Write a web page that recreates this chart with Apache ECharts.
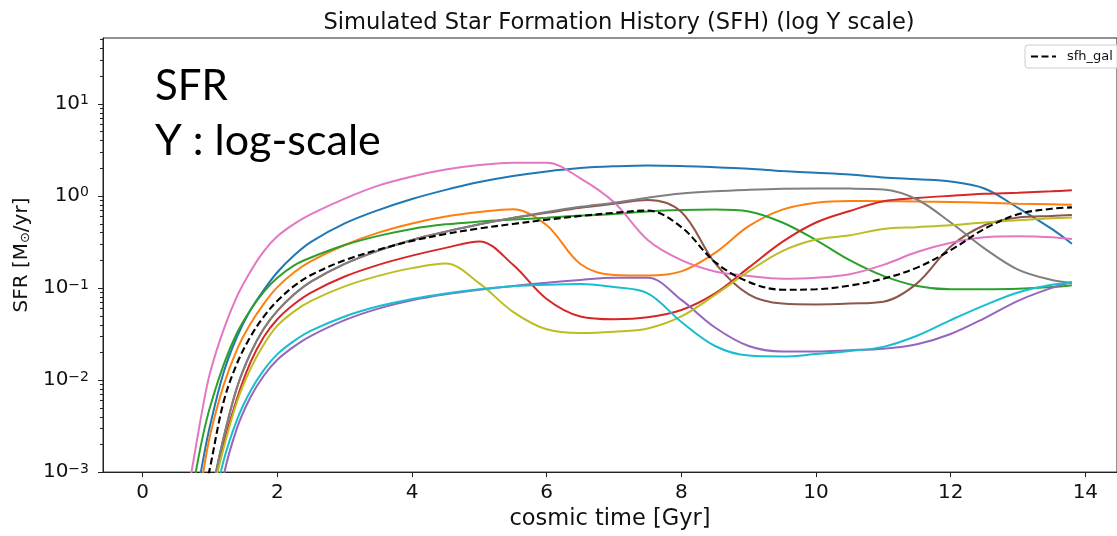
<!DOCTYPE html>
<html><head><meta charset="utf-8">
<script src="https://cdn.jsdelivr.net/npm/echarts@6/dist/echarts.min.js"></script>
<style>html,body{margin:0;padding:0;background:#fff}#c{width:1117px;height:536px}</style>
</head><body><div id="c"></div>
<script>
// cosmic time grid [Gyr]
const time = [0.6,0.7,0.8,0.9,1.0,1.2,1.4,1.6,1.8,2.0,2.25,2.5,3.0,3.5,4.0,4.5,5.0,5.5,6.0,6.5,7.0,7.5,8.0,8.5,9.0,9.5,10.0,10.5,11.0,11.5,12.0,12.5,13.0,13.5,13.8];
// SFR values [Msun/yr]
const sfh0 = [0.000079,0.0002,0.00054,0.0014,0.0032,0.012,0.0295,0.0575,0.0955,0.148,0.226,0.316,0.501,0.70,0.923,1.16,1.41,1.64,1.84,2.0,2.09,2.14,2.11,2.04,1.97,1.86,1.78,1.70,1.585,1.51,1.43,1.20,0.741,0.437,0.302];
const sfh1 = [0.00004,0.000112,0.000316,0.001,0.0025,0.0087,0.0214,0.0407,0.0676,0.102,0.148,0.195,0.292,0.398,0.501,0.596,0.668,0.716,0.479,0.182,0.138,0.136,0.151,0.24,0.468,0.708,0.841,0.877,0.875,0.867,0.859,0.841,0.822,0.809,0.80];
const sfh2 = [0.000126,0.0004,0.00112,0.0026,0.0051,0.0145,0.0324,0.0575,0.0912,0.129,0.176,0.214,0.292,0.367,0.437,0.49,0.525,0.552,0.578,0.61,0.634,0.676,0.70,0.708,0.676,0.513,0.331,0.20,0.135,0.105,0.0966,0.0966,0.0977,0.102,0.107];
const sfh3 = [0.00001,0.000025,0.00007,0.0002,0.00045,0.002,0.0063,0.0155,0.0295,0.0457,0.0668,0.0891,0.133,0.178,0.224,0.272,0.32,0.178,0.0759,0.049,0.0457,0.0479,0.0575,0.0871,0.166,0.316,0.513,0.684,0.871,0.944,1.0,1.05,1.08,1.12,1.15];
const sfh4 = [0.000001,0.0000032,0.00001,0.0000316,0.0001,0.00089,0.003,0.0065,0.0112,0.0166,0.0232,0.0302,0.0447,0.0596,0.0733,0.0851,0.0955,0.105,0.114,0.122,0.129,0.129,0.0741,0.0372,0.0234,0.0204,0.0204,0.0211,0.0219,0.0245,0.0316,0.0468,0.0724,0.10,0.116];
const sfh5 = [0.00001,0.0000316,0.0001,0.00025,0.0005,0.00234,0.0083,0.0195,0.0363,0.0562,0.0851,0.117,0.182,0.254,0.331,0.407,0.49,0.575,0.653,0.741,0.822,0.902,0.668,0.186,0.0851,0.0676,0.0661,0.0676,0.0708,0.112,0.282,0.479,0.582,0.605,0.618];
const sfh6 = [0.00032,0.00079,0.0021,0.0054,0.012,0.035,0.081,0.151,0.251,0.363,0.495,0.631,0.933,1.29,1.62,1.93,2.16,2.29,2.29,1.55,0.851,0.331,0.200,0.151,0.135,0.126,0.129,0.141,0.178,0.245,0.309,0.355,0.363,0.355,0.339];
const sfh7 = [0.00001,0.0000316,0.0001,0.00025,0.0005,0.00234,0.0083,0.0195,0.0363,0.0562,0.0851,0.117,0.182,0.254,0.331,0.407,0.49,0.575,0.668,0.759,0.841,0.955,1.06,1.12,1.16,1.19,1.20,1.197,1.17,0.912,0.513,0.269,0.158,0.122,0.114];
const sfh8 = [0.00001,0.000025,0.00007,0.0002,0.00045,0.0018,0.0058,0.0132,0.0245,0.0389,0.0556,0.0724,0.104,0.135,0.164,0.184,0.112,0.055,0.0355,0.0324,0.0335,0.0363,0.049,0.0841,0.151,0.251,0.335,0.372,0.437,0.457,0.479,0.513,0.543,0.569,0.583];
const sfh9 = [0.0000032,0.00001,0.0000316,0.0001,0.00028,0.00132,0.0037,0.0076,0.0129,0.0191,0.0266,0.0343,0.049,0.0631,0.0759,0.0871,0.0966,0.104,0.108,0.11,0.102,0.0871,0.0427,0.0234,0.0184,0.018,0.0191,0.0207,0.0229,0.0302,0.0447,0.0646,0.0891,0.108,0.114];
const sfhGal = [0.000025,0.000079,0.000224,0.0005,0.00112,0.00575,0.0151,0.0295,0.049,0.0724,0.105,0.138,0.20,0.26,0.324,0.385,0.442,0.495,0.55,0.603,0.653,0.692,0.457,0.191,0.116,0.0955,0.0966,0.106,0.126,0.166,0.257,0.437,0.631,0.724,0.748];
// ticks
const xTicks = [0,2,4,6,8,10,12,14];
const yDecades = [0.001,0.01,0.1,1,10];

const colors = ['#1f77b4','#ff7f0e','#2ca02c','#d62728','#9467bd','#8c564b','#e377c2','#7f7f7f','#bcbd22','#17becf'];
const members = [sfh0,sfh1,sfh2,sfh3,sfh4,sfh5,sfh6,sfh7,sfh8,sfh9];
const xMin = -0.59, xMax = 14.47, yMin = 0.001, yMax = 51.7;
const FONT = 'DejaVu Sans';

function supStr(e){
  return String(e).replace('-', '\u2212');
}
function mk(name, data, color, dashed){
  return {
    name, type:'line', data: time.map((t,i)=>[t, data[i]]),
    symbol:'none', smooth:0.35, clip:true, silent:true,
    lineStyle:{color, width: dashed?2.1:2, type: dashed?[7,3.5]:'solid'},
    itemStyle:{color}, z: dashed?4:3
  };
}
const series = members.map((d,i)=>mk('sfh_'+i, d, colors[i], false));
series.push(mk('sfh_gal', sfhGal, '#000', true));

const chart = echarts.init(document.getElementById('c'), null, {renderer:'canvas'});
chart.setOption({
  animation:false,
  backgroundColor:'#fff',
  title:{text:'Simulated Star Formation History (SFH) (log Y scale)', left:614, top:7, textAlign:'center',
    textStyle:{fontFamily:FONT, fontSize:22.6, fontWeight:'normal', color:'#111'}},
  grid:{left:103, top:38, width:1022, height:436, show:true, borderColor:'#222', borderWidth:1, backgroundColor:'transparent'},
  legend:{data:['sfh_gal'], left:1025, top:45, padding:[5,8,5,5], itemWidth:25, itemHeight:12,
    borderColor:'#ccc', borderWidth:1, borderRadius:3, backgroundColor:'rgba(255,255,255,0.8)', selectedMode:false,
    itemStyle:{opacity:0},
    textStyle:{fontFamily:FONT, fontSize:13, color:'#111', padding:[0,0,0,6]}},
  xAxis:{type:'value', min:xMin, max:xMax, name:'cosmic time [Gyr]', nameLocation:'middle', nameGap:34,
    nameTextStyle:{fontFamily:FONT, fontSize:22.5, color:'#111'},
    axisLine:{show:true, onZero:false, lineStyle:{color:'#222', width:1}},
    axisTick:{show:true, length:5, customValues:xTicks, lineStyle:{color:'#222'}},
    axisLabel:{customValues:xTicks, fontFamily:FONT, fontSize:20, color:'#111', margin:11},
    splitLine:{show:false}},
  yAxis:{type:'log', logBase:10, min:yMin, max:yMax, name:'SFR [M{s|\u2299}/yr]', nameLocation:'middle', nameGap:70,
    nameTextStyle:{fontFamily:FONT, fontSize:20, color:'#111', rich:{s:{fontFamily:FONT, fontSize:13, color:'#111', padding:[8,0,0,0]}}},
    axisLine:{show:true, onZero:false, lineStyle:{color:'#222', width:1}},
    axisTick:{show:false},
    axisLabel:{fontFamily:FONT, fontSize:20, color:'#111', margin:14,
      formatter:function(v){
        const l = Math.log10(v), e = Math.round(l);
        if (Math.abs(l-e) > 1e-6) return '';
        return '{b|10}{s|' + supStr(e) + '}';
      },
      rich:{b:{fontFamily:FONT, fontSize:20, color:'#111'}, s:{fontFamily:FONT, fontSize:14, color:'#111', padding:[0,0,6,0]}}},
    splitLine:{show:false}, minorTick:{show:false}},
  series
});

// tick marks on the log axis (major at decades, minor at 2..9 x 10^n), placed through the axis scale
const ticks = [];
const xLeft = chart.convertToPixel({gridIndex:0}, [xMin, 1])[0];
yDecades.forEach((d,i)=>{
  for (let k=1;k<=9;k++){
    const v = k*d;
    if (v > yMax) break;
    const y = Math.round(chart.convertToPixel({gridIndex:0}, [xMin, v])[1]) + 0.5;
    const len = k===1 ? 5 : 3;
    ticks.push({type:'line', id:'yt'+i+'_'+k, silent:true, shape:{x1:xLeft-len, y1:y, x2:xLeft, y2:y}, style:{stroke:'#222', lineWidth:1}});
  }
});
ticks.push({type:'text', id:'ann1', x:155, y:86, silent:true, style:{text:'SFR', fontFamily:'Lato', fontSize:42, fill:'#000', verticalAlign:'middle'}});
ticks.push({type:'text', id:'ann2', x:155, y:141, silent:true, style:{text:'Y : log-scale', fontFamily:'Lato', fontSize:43, fill:'#000', verticalAlign:'middle'}});
chart.setOption({graphic: ticks});
</script>
</body></html>
